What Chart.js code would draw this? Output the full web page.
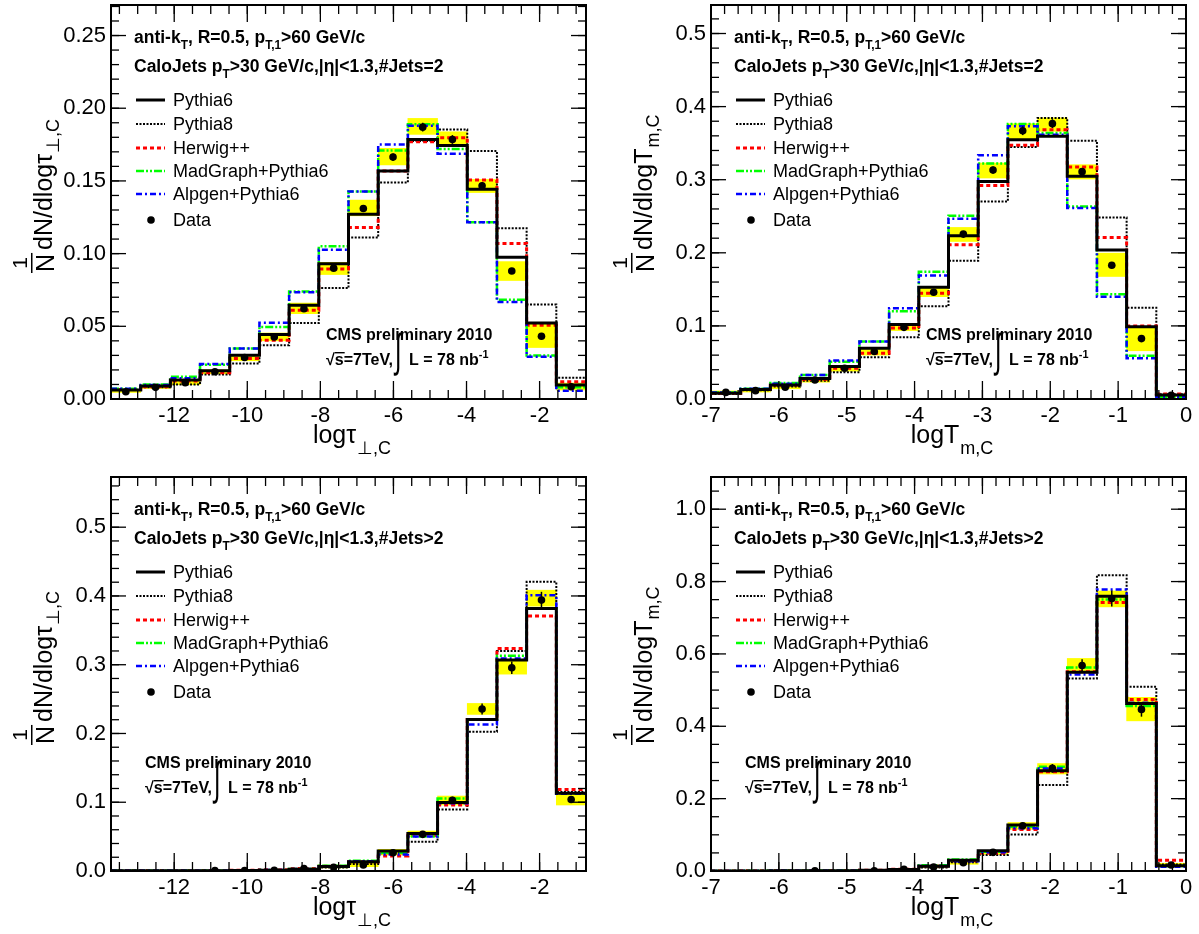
<!DOCTYPE html>
<html>
<head>
<meta charset="utf-8">
<title>Event shapes, CMS 2010</title>
<script src="https://cdn.jsdelivr.net/npm/chart.js@4.4.1/dist/chart.umd.min.js"></script>
<style>
  body { margin: 0; background: #fff; }
  #wrap { position: relative; width: 1199px; height: 934px; overflow: hidden; }
  canvas { position: absolute; }
</style>
</head>
<body>
<div id="wrap">
  <canvas id="c1" width="600" height="467" style="left:0;top:0"></canvas>
  <canvas id="c2" width="599" height="467" style="left:600px;top:0"></canvas>
  <canvas id="c3" width="600" height="467" style="left:0;top:467px"></canvas>
  <canvas id="c4" width="599" height="467" style="left:600px;top:467px"></canvas>
</div>
<script>
const FONT = '"Liberation Sans", Arial, Helvetica, sans-serif';

// --- axes / binning ---
const nBins = 16;
const tauRange = [-13.73, -0.73];
const tmRange = [-7, 0];
const tauTicks = [-12, -10, -8, -6, -4, -2];
const tmTicks = [-7, -6, -5, -4, -3, -2, -1, 0];
const yTicksTau2 = [0, 0.05, 0.10, 0.15, 0.20, 0.25];
const yTicksTm2 = [0, 0.1, 0.2, 0.3, 0.4, 0.5];
const yTicksTau3 = [0, 0.1, 0.2, 0.3, 0.4, 0.5];
const yTicksTm3 = [0, 0.2, 0.4, 0.6, 0.8, 1.0];

// --- log tau, #Jets=2 ---
const tau2Data   = [0.005, 0.008, 0.0112, 0.0187, 0.0285, 0.0427, 0.0621, 0.090, 0.131, 0.1664, 0.187, 0.1785, 0.1466, 0.088, 0.0432, 0.0084];
const tau2SysLo  = [0.0045, 0.0072, 0.0098, 0.0173, 0.0263, 0.040, 0.0587, 0.0856, 0.126, 0.161, 0.182, 0.175, 0.142, 0.0815, 0.0354, 0.0062];
const tau2SysHi  = [0.0058, 0.0088, 0.0124, 0.0201, 0.0306, 0.0454, 0.066, 0.094, 0.1368, 0.1724, 0.193, 0.1838, 0.151, 0.0945, 0.0514, 0.0110];
const tau2Stat   = [0.0003, 0.0004, 0.0005, 0.0006, 0.0008, 0.001, 0.0012, 0.0015, 0.002, 0.0025, 0.003, 0.003, 0.0025, 0.002, 0.0015, 0.0008];
const tau2Pythia6  = [0.0062, 0.0089, 0.013, 0.0194, 0.0301, 0.0443, 0.0644, 0.093, 0.127, 0.1568, 0.1785, 0.1744, 0.1443, 0.0975, 0.0523, 0.0096];
const tau2Pythia8  = [0.0066, 0.008, 0.010, 0.0169, 0.0244, 0.037, 0.0523, 0.0763, 0.111, 0.1489, 0.1775, 0.1854, 0.1705, 0.1174, 0.065, 0.0146];
const tau2Herwig   = [0.0065, 0.0084, 0.0123, 0.018, 0.0279, 0.0404, 0.061, 0.0895, 0.118, 0.1568, 0.177, 0.1797, 0.1507, 0.107, 0.0507, 0.0119];
const tau2MadGraph = [0.007, 0.010, 0.0153, 0.0235, 0.0347, 0.0495, 0.074, 0.105, 0.1427, 0.171, 0.189, 0.172, 0.1215, 0.0683, 0.030, 0.008];
const tau2Alpgen   = [0.007, 0.0096, 0.0142, 0.024, 0.0347, 0.0525, 0.0735, 0.1027, 0.1427, 0.175, 0.188, 0.1687, 0.1215, 0.0667, 0.029, 0.0057];

// --- log T_m, #Jets=2 ---
const tm2Data   = [0.009, 0.0114, 0.016, 0.026, 0.042, 0.065, 0.098, 0.146, 0.2256, 0.3132, 0.367, 0.3767, 0.311, 0.183, 0.0826, 0.005];
const tm2SysLo  = [0.007, 0.0095, 0.014, 0.023, 0.038, 0.060, 0.0936, 0.140, 0.2155, 0.3023, 0.3557, 0.3662, 0.3009, 0.1676, 0.066, 0.0035];
const tm2SysHi  = [0.011, 0.0135, 0.018, 0.029, 0.046, 0.069, 0.1027, 0.1516, 0.2347, 0.3228, 0.3767, 0.3845, 0.3205, 0.1995, 0.098, 0.0065];
const tm2Stat   = [0.0005, 0.0006, 0.0008, 0.001, 0.0015, 0.002, 0.0025, 0.003, 0.004, 0.005, 0.006, 0.006, 0.005, 0.004, 0.003, 0.001];
const tm2Pythia6  = [0.008, 0.013, 0.019, 0.028, 0.0443, 0.0694, 0.102, 0.153, 0.2233, 0.2977, 0.3548, 0.3594, 0.3046, 0.204, 0.099, 0.0055];
const tm2Pythia8  = [0.007, 0.012, 0.017, 0.025, 0.0365, 0.057, 0.0845, 0.127, 0.189, 0.2703, 0.3447, 0.3845, 0.3534, 0.2484, 0.125, 0.0064];
const tm2Herwig   = [0.008, 0.013, 0.019, 0.027, 0.042, 0.0626, 0.097, 0.1447, 0.211, 0.2922, 0.347, 0.3685, 0.3174, 0.221, 0.100, 0.007];
const tm2MadGraph = [0.009, 0.014, 0.022, 0.033, 0.051, 0.0785, 0.120, 0.174, 0.2507, 0.322, 0.3763, 0.364, 0.2635, 0.1434, 0.059, 0.003];
const tm2Alpgen   = [0.009, 0.014, 0.021, 0.033, 0.0525, 0.0785, 0.124, 0.169, 0.2466, 0.3333, 0.373, 0.3616, 0.2612, 0.140, 0.0557, 0.0025];

// --- log tau, #Jets>2 ---
const tau3Data   = [null, null, null, 0.0005, 0.0007, 0.001, 0.0034, 0.0053, 0.0087, 0.0266, 0.0533, 0.103, 0.2355, 0.2955, 0.394, 0.104];
const tau3SysLo  = [null, null, null, 0.0003, 0.0004, 0.0007, 0.0028, 0.0045, 0.0063, 0.0233, 0.0499, 0.096, 0.2277, 0.2863, 0.3852, 0.096];
const tau3SysHi  = [null, null, null, 0.0007, 0.001, 0.0013, 0.004, 0.0062, 0.0121, 0.0315, 0.0581, 0.109, 0.2437, 0.3052, 0.4084, 0.112];
const tau3Stat   = [null, null, null, 0.0003, 0.0003, 0.0004, 0.0008, 0.001, 0.0015, 0.003, 0.004, 0.005, 0.008, 0.009, 0.012, 0.005];
const tau3Pythia6  = [0.0002, 0.0002, 0.0003, 0.0004, 0.0007, 0.0012, 0.0025, 0.0065, 0.0136, 0.029, 0.0547, 0.0998, 0.2205, 0.3067, 0.3818, 0.1129];
const tau3Pythia8  = [0.0002, 0.0002, 0.0003, 0.0004, 0.0006, 0.001, 0.002, 0.005, 0.010, 0.0257, 0.0426, 0.0896, 0.2025, 0.320, 0.4205, 0.115];
const tau3Herwig   = [0.0002, 0.0003, 0.0004, 0.0006, 0.001, 0.0018, 0.0035, 0.0068, 0.0135, 0.0218, 0.052, 0.096, 0.2205, 0.3236, 0.371, 0.1187];
const tau3MadGraph = [0.0002, 0.0003, 0.0004, 0.0005, 0.0009, 0.0015, 0.003, 0.0075, 0.015, 0.0266, 0.050, 0.1056, 0.2205, 0.313, 0.382, 0.1129];
const tau3Alpgen   = [0.0002, 0.0002, 0.0003, 0.0005, 0.0008, 0.0013, 0.0028, 0.007, 0.014, 0.024, 0.050, 0.0984, 0.2132, 0.309, 0.401, 0.1125];

// --- log T_m, #Jets>2 ---
const tm3Data   = [null, null, null, 0.0005, null, 0.0008, 0.0046, 0.011, 0.023, 0.0516, 0.125, 0.2836, 0.568, 0.753, 0.4466, 0.0166];
const tm3SysLo  = [null, null, null, 0.0003, null, 0.0005, 0.0035, 0.009, 0.0185, 0.046, 0.115, 0.268, 0.5525, 0.730, 0.415, 0.0115];
const tm3SysHi  = [null, null, null, 0.0007, null, 0.0011, 0.0057, 0.013, 0.0285, 0.057, 0.134, 0.297, 0.5875, 0.774, 0.480, 0.0215];
const tm3Stat   = [null, null, null, 0.0004, null, 0.0005, 0.001, 0.002, 0.003, 0.005, 0.008, 0.012, 0.017, 0.022, 0.020, 0.004];
const tm3Pythia6  = [0.0003, 0.0003, 0.0004, 0.0005, 0.001, 0.0018, 0.004, 0.013, 0.030, 0.056, 0.127, 0.277, 0.549, 0.7597, 0.463, 0.0147];
const tm3Pythia8  = [0.0003, 0.0003, 0.0004, 0.0005, 0.0009, 0.0015, 0.0035, 0.010, 0.024, 0.044, 0.101, 0.2375, 0.532, 0.8177, 0.509, 0.018];
const tm3Herwig   = [0.0003, 0.0004, 0.0005, 0.0007, 0.0012, 0.002, 0.005, 0.0135, 0.0285, 0.050, 0.115, 0.274, 0.5506, 0.742, 0.474, 0.030];
const tm3MadGraph = [0.0003, 0.0004, 0.0005, 0.0006, 0.0011, 0.002, 0.0045, 0.0157, 0.032, 0.053, 0.122, 0.288, 0.5626, 0.7505, 0.4558, 0.0138];
const tm3Alpgen   = [0.0003, 0.0003, 0.0004, 0.0006, 0.001, 0.0018, 0.0042, 0.014, 0.0267, 0.052, 0.118, 0.283, 0.5433, 0.778, 0.465, 0.012];

// line styles of the generators (legend order)
const mcStyles = [
  { label: 'Pythia6',          color: '#000000', width: 3,   dash: [] },
  { label: 'Pythia8',          color: '#000000', width: 2,   dash: [2, 1.5] },
  { label: 'Herwig++',         color: '#ff0000', width: 3,   dash: [4, 3] },
  { label: 'MadGraph+Pythia6', color: '#00ff00', width: 2.5, dash: [8, 2, 2, 2, 2, 2] },
  { label: 'Alpgen+Pythia6',   color: '#0000ff', width: 2.5, dash: [6, 3, 2, 3] }
];

const panels = [
  { id: 'c1', range: tauRange, xTicks: tauTicks, xMinor: 0.5, yMax: 0.271, yTicks: yTicksTau2, yMinor: 0.01, yDec: 2,
    sym: 'τ', sub: '⊥,C', jets: '=2', cms: [215, 335], padTop: 5, padRight: 14, axisH: 68,
    mc: [tau2Pythia6, tau2Pythia8, tau2Herwig, tau2MadGraph, tau2Alpgen],
    data: tau2Data, lo: tau2SysLo, hi: tau2SysHi, stat: tau2Stat },
  { id: 'c2', range: tmRange, xTicks: tmTicks, xMinor: 0.2, yMax: 0.539, yTicks: yTicksTm2, yMinor: 0.02, yDec: 1,
    sym: 'T', sub: 'm,C', jets: '=2', cms: [215, 335], padTop: 5, padRight: 13, axisH: 68,
    mc: [tm2Pythia6, tm2Pythia8, tm2Herwig, tm2MadGraph, tm2Alpgen],
    data: tm2Data, lo: tm2SysLo, hi: tm2SysHi, stat: tm2Stat },
  { id: 'c3', range: tauRange, xTicks: tauTicks, xMinor: 0.5, yMax: 0.573, yTicks: yTicksTau3, yMinor: 0.02, yDec: 1,
    sym: 'τ', sub: '⊥,C', jets: '>2', cms: [34, 291], padTop: 10, padRight: 14, axisH: 63,
    mc: [tau3Pythia6, tau3Pythia8, tau3Herwig, tau3MadGraph, tau3Alpgen],
    data: tau3Data, lo: tau3SysLo, hi: tau3SysHi, stat: tau3Stat },
  { id: 'c4', range: tmRange, xTicks: tmTicks, xMinor: 0.2, yMax: 1.089, yTicks: yTicksTm3, yMinor: 0.05, yDec: 1,
    sym: 'T', sub: 'm,C', jets: '>2', cms: [34, 291], padTop: 10, padRight: 13, axisH: 63,
    mc: [tm3Pythia6, tm3Pythia8, tm3Herwig, tm3MadGraph, tm3Alpgen],
    data: tm3Data, lo: tm3SysLo, hi: tm3SysHi, stat: tm3Stat }
];

function binEdges(r) {
  const w = (r[1] - r[0]) / nBins;
  return Array.from({ length: nBins + 1 }, (_, i) => r[0] + i * w);
}

// draw text pieces; mode 0 normal, 1 subscript, 2 superscript
function rich(ctx, x, y, parts, size, bold) {
  let cx = x;
  for (const [t, m] of parts) {
    const fs = m ? size * 0.68 : size;
    ctx.font = (bold ? 'bold ' : '') + fs + 'px ' + FONT;
    const dy = m === 1 ? size * 0.32 : (m === 2 ? -size * 0.42 : 0);
    ctx.fillText(t, cx, y + dy);
    cx += ctx.measureText(t).width;
  }
  return cx;
}

function minorVals(min, max, step) {
  const out = [];
  for (let k = Math.ceil(min / step - 1e-9); k * step <= max + 1e-9; k++) out.push(k * step);
  return out;
}

function decoPlugin(p, centers) {
  return {
    id: 'deco_' + p.id,
    afterDatasetsDraw(chart) {
      const { ctx, chartArea: a, scales: { x, y } } = chart;
      ctx.save();
      // statistical error bars on the data
      ctx.strokeStyle = '#000';
      ctx.lineWidth = 1.5;
      p.data.forEach((v, i) => {
        if (v == null) return;
        const px = x.getPixelForValue(centers[i]);
        ctx.beginPath();
        ctx.moveTo(px, y.getPixelForValue(v - p.stat[i]));
        ctx.lineTo(px, y.getPixelForValue(v + p.stat[i]));
        ctx.stroke();
      });
      // inward ticks on all four sides
      ctx.lineWidth = 1.3;
      const tick = (x1, y1, x2, y2) => { ctx.beginPath(); ctx.moveTo(x1, y1); ctx.lineTo(x2, y2); ctx.stroke(); };
      minorVals(p.range[0], p.range[1], p.xMinor).forEach(v => {
        const px = x.getPixelForValue(v);
        tick(px, a.bottom, px, a.bottom - 9); tick(px, a.top, px, a.top + 9);
      });
      p.xTicks.forEach(v => {
        const px = x.getPixelForValue(v);
        tick(px, a.bottom, px, a.bottom - 18); tick(px, a.top, px, a.top + 17);
      });
      minorVals(0, p.yMax, p.yMinor).forEach(v => {
        const py = y.getPixelForValue(v);
        tick(a.left, py, a.left + 8, py); tick(a.right, py, a.right - 8, py);
      });
      p.yTicks.forEach(v => {
        const py = y.getPixelForValue(v);
        tick(a.left, py, a.left + 15, py); tick(a.right, py, a.right - 15, py);
      });
      ctx.lineWidth = 2;
      ctx.strokeRect(a.left, a.top, a.right - a.left, a.bottom - a.top);
      ctx.restore();
    },
    afterDraw(chart) {
      const { ctx, chartArea: a } = chart;
      ctx.save();
      ctx.fillStyle = '#000';
      ctx.textBaseline = 'alphabetic';
      ctx.textAlign = 'left';

      // selection text
      rich(ctx, a.left + 23, a.top + 38,
        [['anti-k', 0], ['T', 1], [', R=0.5, p', 0], ['T,1', 1], ['>60 GeV/c', 0]], 17.5, true);
      rich(ctx, a.left + 23, a.top + 67,
        [['CaloJets p', 0], ['T', 1], ['>30 GeV/c,|η|<1.3,#Jets' + p.jets, 0]], 17.5, true);

      // legend
      ctx.textBaseline = 'middle';
      ctx.font = '18px ' + FONT;
      const ly = [95, 119, 143, 166, 189];
      mcStyles.forEach((s, k) => {
        const yy = a.top + ly[k];
        ctx.save();
        ctx.strokeStyle = s.color; ctx.lineWidth = s.width; ctx.setLineDash(s.dash);
        ctx.beginPath(); ctx.moveTo(a.left + 25, yy); ctx.lineTo(a.left + 54, yy); ctx.stroke();
        ctx.restore();
        ctx.fillText(s.label, a.left + 62, yy + 1);
      });
      ctx.beginPath(); ctx.arc(a.left + 40, a.top + 215, 3.8, 0, Math.PI * 2); ctx.fill();
      ctx.fillText('Data', a.left + 62, a.top + 216);

      // CMS label
      ctx.textBaseline = 'alphabetic';
      const cx0 = a.left + p.cms[0], cy0 = a.top + p.cms[1];
      ctx.font = 'bold 16px ' + FONT;
      ctx.fillText('CMS preliminary 2010', cx0, cy0);
      const by = cy0 + 25;
      let cx = cx0;
      ctx.fillText('√', cx, by); cx += ctx.measureText('√').width;
      ctx.fillRect(cx, by - 13, ctx.measureText('s').width + 1, 1.4);
      ctx.fillText('s=7TeV,', cx, by); cx += ctx.measureText('s=7TeV,').width + 2;
      ctx.save();
      ctx.translate(cx, by - 12);
      ctx.scale(1, 1.9);
      ctx.font = '24px ' + FONT;
      ctx.textBaseline = 'middle';
      ctx.fillText('∫', 0, 0);
      ctx.restore();
      cx += 14;
      ctx.font = 'bold 16px ' + FONT;
      cx = rich(ctx, cx, by, [['L = 78 nb', 0], ['-1', 2]], 16, true);

      // x-axis title
      ctx.font = '25px ' + FONT;
      const xm = 'log' + p.sym;
      const wxm = ctx.measureText(xm).width;
      ctx.font = '18px ' + FONT;
      const wxs = ctx.measureText(p.sub).width;
      const x0 = (a.left + a.right) / 2 + 3 - (wxm + wxs) / 2;
      ctx.font = '25px ' + FONT;
      ctx.fillText(xm, x0, a.bottom + 44);
      ctx.font = '18px ' + FONT;
      ctx.fillText(p.sub, x0 + wxm + 1, a.bottom + 55);

      // y-axis title (rotated): 1/N dN/dlog..
      ctx.translate(a.left - 57, a.bottom - 127);
      ctx.rotate(-Math.PI / 2);
      ctx.font = '25px ' + FONT;
      const wN = ctx.measureText('N').width;
      ctx.fillText('N', 0, 0);
      ctx.font = '21px ' + FONT;
      const w1 = ctx.measureText('1').width;
      ctx.fillText('1', (wN - w1) / 2, -27);
      ctx.fillRect(-1, -23, wN + 2, 1.5);
      ctx.font = '25px ' + FONT;
      const ym = 'dN/dlog' + p.sym;
      ctx.fillText(ym, wN + 4, -2);
      const wym = ctx.measureText(ym).width;
      ctx.font = '18px ' + FONT;
      ctx.fillText(p.sub, wN + 5 + wym, 5);
      ctx.restore();
    }
  };
}

function makePanel(p) {
  const edges = binEdges(p.range);
  const centers = edges.slice(0, nBins).map((e, i) => (e + edges[i + 1]) / 2);

  const stepData = vals => {
    const pts = vals.map((v, i) => ({ x: edges[i], y: v }));
    pts.push({ x: edges[nBins], y: vals[nBins - 1] });
    return pts;
  };

  const dataPts = [], bandPts = [];
  p.data.forEach((v, i) => {
    if (v == null) return;
    dataPts.push({ x: centers[i], y: v });
    bandPts.push({ x: centers[i], y: [p.lo[i], p.hi[i]] });
  });

  // draw order: first dataset ends up on top
  const lineOrder = [0, 4, 3, 2, 1];
  const datasets = [
    { type: 'line', label: 'Data', data: dataPts, showLine: false, pointRadius: 3.8,
      pointBackgroundColor: '#000', pointBorderWidth: 0, pointHoverRadius: 3.8 }
  ];
  lineOrder.forEach(k => {
    const s = mcStyles[k];
    datasets.push({
      type: 'line', label: s.label, data: stepData(p.mc[k]), stepped: 'before',
      borderColor: s.color, borderWidth: s.width, borderDash: s.dash,
      pointRadius: 0, fill: false, tension: 0
    });
  });
  datasets.push({
    type: 'bar', label: 'syst', data: bandPts, backgroundColor: '#ffff00',
    borderWidth: 0, barPercentage: 1, categoryPercentage: 1
  });

  new Chart(document.getElementById(p.id), {
    type: 'line',
    data: { datasets },
    options: {
      responsive: false,
      animation: false,
      events: [],
      layout: { padding: { top: p.padTop, right: p.padRight, left: 0, bottom: 0 } },
      plugins: { legend: { display: false }, tooltip: { enabled: false } },
      scales: {
        x: {
          type: 'linear', min: p.range[0], max: p.range[1], offset: false,
          grid: { display: false, drawTicks: false }, border: { display: false },
          afterBuildTicks: s => { s.ticks = p.xTicks.map(v => ({ value: v })); },
          afterFit: s => { s.height = p.axisH; s.paddingLeft = 0; s.paddingRight = 0; },
          ticks: {
            autoSkip: false, maxRotation: 0, padding: 4, color: '#000',
            font: { family: FONT, size: 22 },
            callback: v => String(v)
          }
        },
        y: {
          type: 'linear', min: 0, max: p.yMax,
          grid: { display: false, drawTicks: false }, border: { display: false },
          afterBuildTicks: s => { s.ticks = p.yTicks.map(v => ({ value: v })); },
          afterFit: s => { s.width = 111; s.paddingTop = 0; s.paddingBottom = 0; },
          ticks: {
            padding: 5, color: '#000',
            font: { family: FONT, size: 22 },
            callback: v => Number(v).toFixed(p.yDec)
          }
        }
      }
    },
    plugins: [decoPlugin(p, centers)]
  });
}

panels.forEach(makePanel);
</script>
</body>
</html>
